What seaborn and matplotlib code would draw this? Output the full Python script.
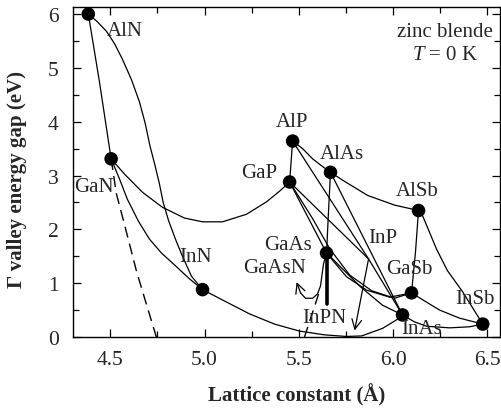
import matplotlib
matplotlib.use("Agg")
import matplotlib.pyplot as plt
from matplotlib.ticker import MultipleLocator, FormatStrFormatter
import seaborn as sns

# Binary compounds: lattice constant (Å) and Γ-valley gap (eV)
compounds = ["AlN", "GaN", "InN", "AlP", "GaP", "AlAs", "GaAs", "AlSb", "GaSb", "InAs", "InSb"]
lattice = [4.383, 4.504, 4.989, 5.467, 5.451, 5.668, 5.647, 6.135, 6.098, 6.050, 6.476]
gap = [6.00, 3.31, 0.88, 3.64, 2.88, 3.06, 1.56, 2.35, 0.82, 0.41, 0.24]

# InP (drawn as a vertex only)
inp_a, inp_eg = 5.870, 1.45

# Ternary alloy curves
aln_gan_a = [4.383, 4.442, 4.504]
aln_gan_eg = [6.00, 4.74, 3.31]

aln_inn_a = [4.383, 4.430, 4.479, 4.522, 4.564, 4.612, 4.654, 4.684, 4.710, 4.736, 4.760,
             4.780, 4.810, 4.845, 4.880, 4.930, 4.989]
aln_inn_eg = [6.00, 5.86, 5.68, 5.45, 5.16, 4.78, 4.37, 3.98, 3.55, 3.20, 2.85,
              2.50, 2.15, 1.82, 1.52, 1.13, 0.88]

gan_inn_a = [4.504, 4.548, 4.590, 4.649, 4.707, 4.771, 4.840, 4.920, 4.989]
gan_inn_eg = [3.31, 2.94, 2.56, 2.15, 1.82, 1.56, 1.34, 1.08, 0.88]

gan_gap_a = [4.504, 4.574, 4.670, 4.776, 4.893, 4.989, 5.095, 5.222, 5.328, 5.398, 5.451]
gan_gap_eg = [3.31, 3.03, 2.69, 2.41, 2.21, 2.14, 2.14, 2.28, 2.51, 2.71, 2.88]

inn_inas_a = [4.989, 5.116, 5.238, 5.371, 5.503, 5.636, 5.753, 5.833, 5.944, 6.019, 6.050]
inn_inas_eg = [0.88, 0.65, 0.43, 0.24, 0.11, 0.04, 0.01, 0.02, 0.16, 0.32, 0.41]

alp_gap_a = [5.467, 5.451]
alp_gap_eg = [3.64, 2.88]

alp_alas_a = [5.467, 5.520, 5.573, 5.621, 5.668]
alp_alas_eg = [3.64, 3.50, 3.31, 3.18, 3.06]

alp_inp_a = [5.467, 5.870]
alp_inp_eg = [3.64, 1.45]

gap_inp_a = [5.451, 5.870]
gap_inp_eg = [2.88, 1.45]

gap_gaas_a = [5.451, 5.647]
gap_gaas_eg = [2.88, 1.56]

gap_gasb_a = [5.451, 5.573, 5.664, 5.770, 5.886, 6.008, 6.098]
gap_gasb_eg = [2.88, 2.20, 1.64, 1.15, 0.86, 0.72, 0.82]

gaas_gasb_a = [5.647, 5.753, 5.860, 5.982, 6.098]
gaas_gasb_eg = [1.56, 1.12, 0.87, 0.74, 0.82]

gaas_inas_a = [5.647, 5.685, 5.759, 5.828, 5.944, 6.050]
gaas_inas_eg = [1.56, 1.43, 1.17, 0.93, 0.59, 0.41]

alas_gaas_a = [5.668, 5.657, 5.647]
alas_gaas_eg = [3.06, 2.30, 1.56]

alas_inas_a = [5.668, 6.050]
alas_inas_eg = [3.06, 0.41]

alas_alsb_a = [5.668, 5.743, 5.865, 6.008, 6.135]
alas_alsb_eg = [3.06, 2.89, 2.63, 2.45, 2.35]

alsb_gasb_a = [6.135, 6.119, 6.098]
alsb_gasb_eg = [2.35, 1.58, 0.82]

alsb_insb_a = [6.135, 6.157, 6.231, 6.289, 6.369, 6.476]
alsb_insb_eg = [2.35, 2.25, 1.63, 1.23, 0.84, 0.24]

gasb_insb_a = [6.098, 6.167, 6.247, 6.353, 6.476]
gasb_insb_eg = [0.82, 0.67, 0.50, 0.35, 0.24]

inas_insb_a = [6.050, 6.114, 6.178, 6.300, 6.406, 6.476]
inas_insb_eg = [0.41, 0.28, 0.20, 0.17, 0.19, 0.24]

inp_inas_a = [5.870, 6.050]
inp_inas_eg = [1.45, 0.41]

# Dilute-nitride branches
gaasn_a = [5.647, 5.631, 5.615, 5.599, 5.573, 5.535, 5.509, 5.488]
gaasn_eg = [1.56, 1.36, 0.95, 0.80, 0.72, 0.72, 0.82, 1.02]

inpn_tip_a, inpn_tip_eg = 5.796, 0.12

gan_dash_a = [4.504, 4.532, 4.574, 4.638, 4.691, 4.744]
gan_dash_eg = [3.31, 2.66, 2.10, 1.23, 0.61, 0.0]

gaas_dash_a = [5.605, 5.530]
gaas_dash_eg = [0.80, 0.0]

gaas_bar_a = [5.647, 5.647]
gaas_bar_eg = [1.56, 0.61]

# Label positions (lattice, gap)
labels = {
    "AlN": (4.574, 5.70), "GaN": (4.415, 2.79), "InN": (4.951, 1.50),
    "AlP": (5.462, 4.01), "GaP": (5.287, 3.05), "AlAs": (5.727, 3.40),
    "AlSb": (6.130, 2.73), "InP": (5.944, 1.84), "GaAs": (5.440, 1.71),
    "GaAsN": (5.372, 1.30), "GaSb": (6.088, 1.28), "InPN": (5.636, 0.37),
    "InAs": (6.152, 0.15), "InSb": (6.433, 0.71),
}

sns.set_style("ticks")
plt.rcParams["font.family"] = ["Liberation Serif", "DejaVu Serif"]
plt.rcParams["mathtext.fontset"] = "custom"
plt.rcParams["mathtext.rm"] = "Liberation Serif"
plt.rcParams["mathtext.it"] = "Liberation Serif:italic"

fig = plt.figure(figsize=(5.02, 4.10), dpi=100)
ax = fig.add_axes([0.1448, 0.1756, 0.8522, 0.8061])

LW = 0.9
solid = [
    (aln_gan_a, aln_gan_eg), (aln_inn_a, aln_inn_eg), (gan_inn_a, gan_inn_eg),
    (gan_gap_a, gan_gap_eg), (inn_inas_a, inn_inas_eg), (alp_gap_a, alp_gap_eg),
    (alp_alas_a, alp_alas_eg), (alp_inp_a, alp_inp_eg), (gap_inp_a, gap_inp_eg),
    (gap_gaas_a, gap_gaas_eg), (gap_gasb_a, gap_gasb_eg), (gaas_gasb_a, gaas_gasb_eg),
    (gaas_inas_a, gaas_inas_eg), (alas_gaas_a, alas_gaas_eg), (alas_inas_a, alas_inas_eg),
    (alas_alsb_a, alas_alsb_eg), (alsb_gasb_a, alsb_gasb_eg), (alsb_insb_a, alsb_insb_eg),
    (gasb_insb_a, gasb_insb_eg), (inas_insb_a, inas_insb_eg), (inp_inas_a, inp_inas_eg),
    (gaasn_a[:-1], gaasn_eg[:-1]),
]
for xs, ys in solid:
    sns.lineplot(x=xs, y=ys, sort=False, estimator=None, color="black",
                 lw=LW, ax=ax, legend=False)

for xs, ys in [(gan_dash_a, gan_dash_eg), (gaas_dash_a, gaas_dash_eg)]:
    sns.lineplot(x=xs, y=ys, sort=False, estimator=None, color="black",
                 lw=1.0, ax=ax, legend=False)
    ax.lines[-1].set_linestyle((0, (8, 4.5)))

sns.lineplot(x=gaas_bar_a, y=gaas_bar_eg, sort=False, estimator=None,
             color="black", lw=2.6, ax=ax, legend=False)

arrow = dict(arrowstyle="->,head_length=0.5,head_width=0.25", color="black",
             lw=LW, mutation_scale=14, shrinkA=0, shrinkB=0)
ax.annotate("", xy=(gaasn_a[-1], gaasn_eg[-1]), xytext=(gaasn_a[-2], gaasn_eg[-2]),
            arrowprops=arrow)
ax.annotate("", xy=(inpn_tip_a, inpn_tip_eg), xytext=(inp_a, inp_eg),
            arrowprops=arrow)

sns.scatterplot(x=lattice, y=gap, color="black", s=95, edgecolor="none",
                ax=ax, zorder=5, legend=False)

for name, (x, y) in labels.items():
    ax.text(x, y, name, fontsize=15, ha="center", va="center", zorder=6)

ax.text(6.274, 5.68, "zinc blende", fontsize=15, ha="center", va="center")
ax.text(6.279, 5.24, r"$T$ = 0 K", fontsize=15, ha="center", va="center")

ax.set_xlim(4.3, 6.57)
ax.set_ylim(0, 6.14)
ax.xaxis.set_major_locator(MultipleLocator(0.5))
ax.xaxis.set_minor_locator(MultipleLocator(0.25))
ax.yaxis.set_major_locator(MultipleLocator(1))
ax.yaxis.set_minor_locator(MultipleLocator(0.5))
ax.xaxis.set_major_formatter(FormatStrFormatter("%.1f"))
ax.tick_params(which="both", direction="in", top=True, right=True,
               labelsize=15.5, width=0.9, color="black")
ax.tick_params(which="major", length=5.8)
ax.tick_params(which="minor", length=4.0)
ax.tick_params(axis="x", pad=9)
ax.tick_params(axis="y", pad=10)
for sp in ax.spines.values():
    sp.set_linewidth(1.0)
    sp.set_color("black")

ax.set_xlabel("Lattice constant (Å)", fontsize=15, fontweight="bold")
ax.set_ylabel("Γ valley energy gap (eV)", fontsize=15, fontweight="bold")
ax.xaxis.label.set_va("center")
ax.yaxis.label.set_va("center")
ax.xaxis.set_label_coords(0.523, -0.172)
ax.yaxis.set_label_coords(-0.130, 0.481)

fig.savefig("out.png", dpi=100)
